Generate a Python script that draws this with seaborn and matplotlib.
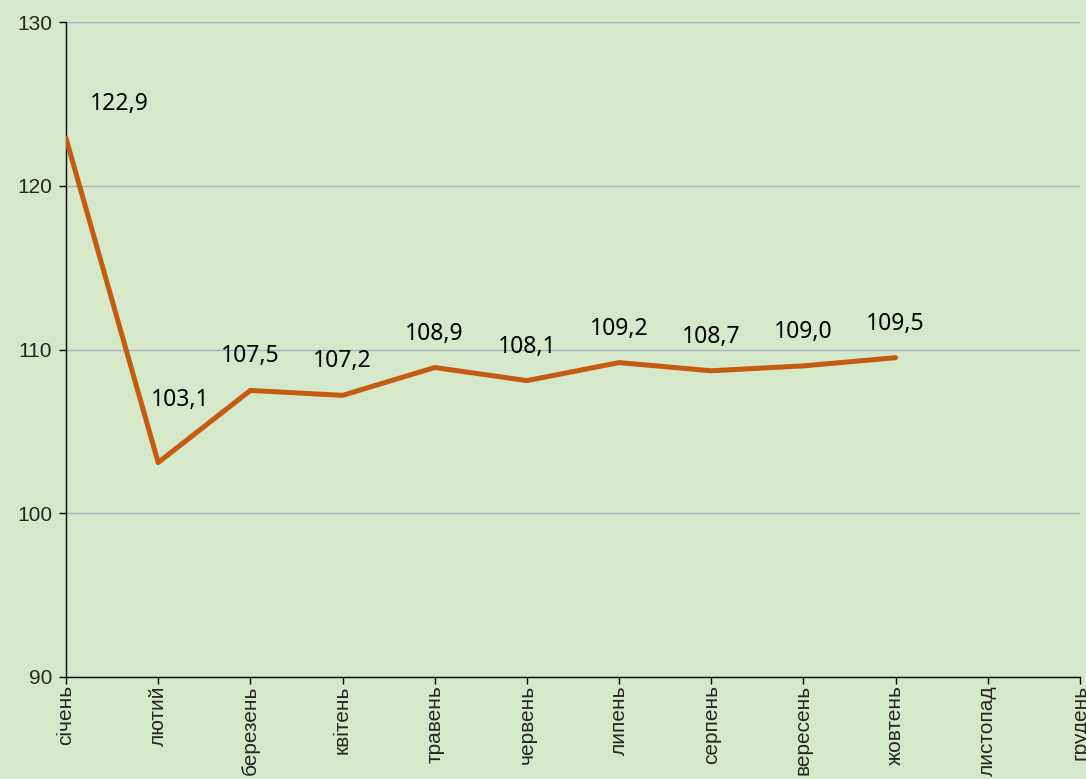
import numpy as np
import pandas as pd
import matplotlib
matplotlib.use("Agg")
import matplotlib.pyplot as plt
import seaborn as sns

# monthly index values, previous month = 100 (Nov/Dec not yet published)
months = ["січень", "лютий", "березень", "квітень", "травень", "червень",
          "липень", "серпень", "вересень", "жовтень", "листопад", "грудень"]
values = [122.9, 103.1, 107.5, 107.2, 108.9, 108.1, 109.2, 108.7, 109.0, 109.5,
          np.nan, np.nan]
y_ticks = [90, 100, 110, 120, 130]

bg = "#d5e8c9"
line_col = "#c55a11"

sns.set_style("white")
plt.rcParams["font.family"] = ["Liberation Sans", "DejaVu Sans"]

df = pd.DataFrame({"pos": np.arange(len(months)), "value": values})

fig = plt.figure(figsize=(10.86, 7.79), dpi=100, facecolor=bg)
ax = fig.add_axes([66 / 1086, 102 / 779, 1014 / 1086, 655 / 779])
ax.set_facecolor(bg)

sns.lineplot(data=df.dropna(), x="pos", y="value", ax=ax,
             color=line_col, linewidth=3.6, zorder=3)

ax.set_xlim(0, 11)
ax.set_ylim(90, 130)
ax.set_yticks(y_ticks)
ax.set_xticks(df["pos"])
ax.set_xticklabels(months, rotation=90, va="top", ha="center", fontsize=15)
ax.tick_params(axis="y", labelsize=15, length=5, width=1, color="black",
               direction="out", pad=5, left=True)
ax.tick_params(axis="x", length=5, width=1, color="black",
               direction="out", pad=1, bottom=True)
ax.set_xlabel("")
ax.set_ylabel("")

ax.grid(axis="y", color="#a7b0c4", linewidth=1)
ax.set_axisbelow(True)
for s in ["top", "right"]:
    ax.spines[s].set_visible(False)
for s in ["left", "bottom"]:
    ax.spines[s].set_color("black")
    ax.spines[s].set_linewidth(1)

# data labels, mostly centred above the point
for i, v in enumerate(values):
    if np.isnan(v):
        continue
    dx, dy = 0, 34
    if i == 0:
        dx = 53
    elif i == 1:
        dx, dy = 22, 62
    ax.annotate(f"{v:.1f}".replace(".", ","), (i, v),
                xytext=(dx, dy), textcoords="offset pixels",
                ha="center", va="center", fontsize=16.5,
                family=["Noto Sans", "DejaVu Sans"], color="black")

fig.savefig("out.png", dpi=100, facecolor=bg)
